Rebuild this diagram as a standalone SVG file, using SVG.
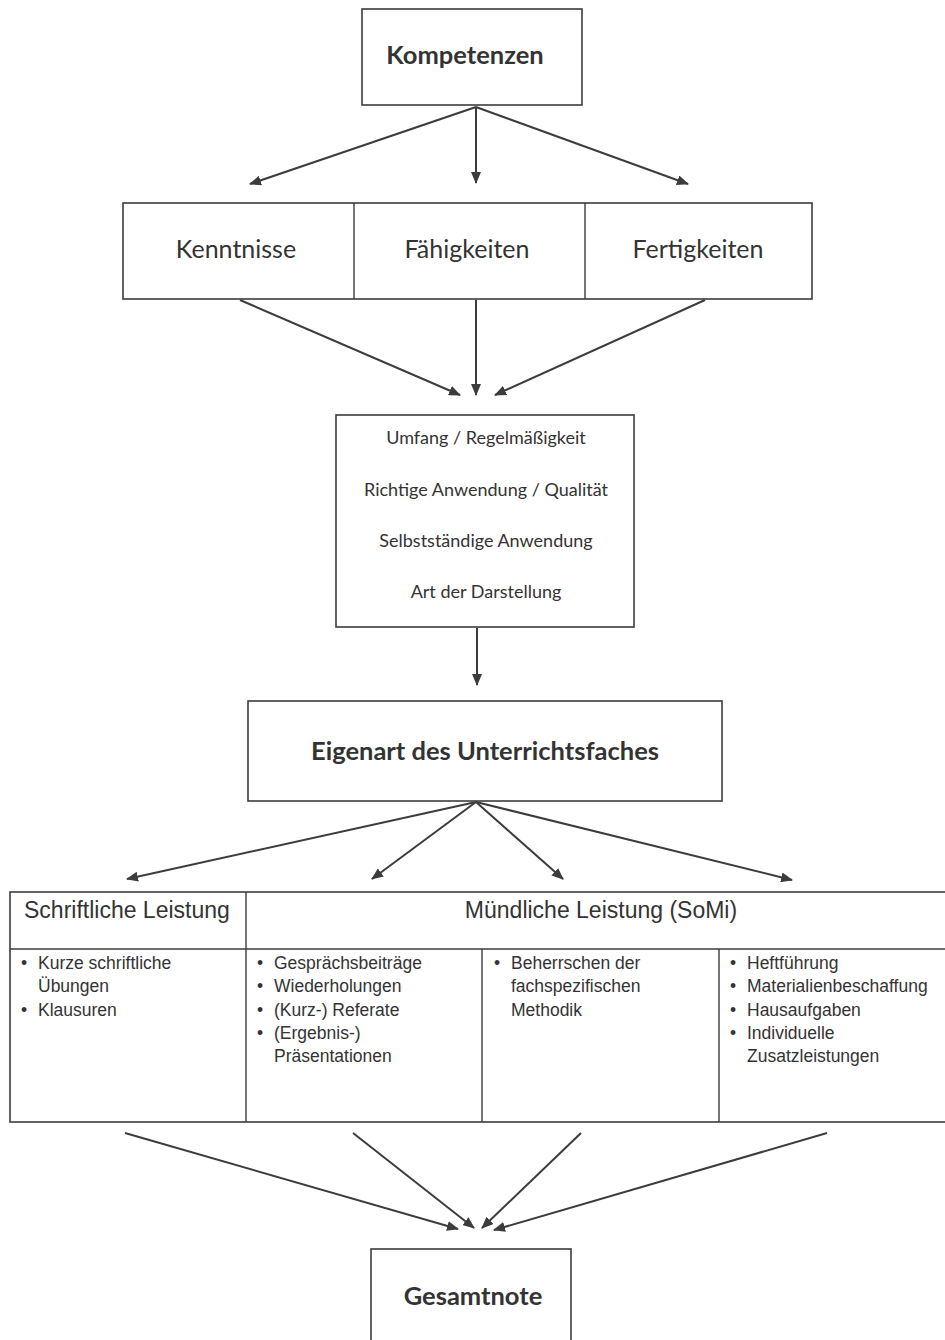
<svg xmlns="http://www.w3.org/2000/svg" width="945" height="1340" viewBox="0 0 945 1340">
<defs>
<marker id="ah" markerWidth="12" markerHeight="10" refX="11" refY="5" orient="auto" markerUnits="userSpaceOnUse">
<path d="M0,0 L12,5 L0,10 Z" fill="#3c3c3c"/>
</marker>
<style>
.box{fill:#fff;stroke:#3c3c3c;stroke-width:1.6}
.ln{stroke:#3c3c3c;stroke-width:1.4;fill:none}
.con{stroke:#3c3c3c;stroke-width:2;fill:none;marker-end:url(#ah)}
.cb{font-family:Lato,"Liberation Sans",sans-serif;font-weight:bold;font-size:25.5px;fill:#333;text-anchor:middle}
.cr{font-family:Lato,"Liberation Sans",sans-serif;font-size:25px;fill:#333;text-anchor:middle}
.cs{font-family:Lato,"Liberation Sans",sans-serif;font-size:18px;fill:#333;text-anchor:middle}
.ah{font-family:"Liberation Sans",Arial,sans-serif;font-size:23px;fill:#333}
.li{font-family:"Liberation Sans",Arial,sans-serif;font-size:17.5px;fill:#333}
</style>
</defs>
<rect width="945" height="1340" fill="#fff"/>

<g id="kompetenzen">
<rect class="box" x="362" y="9" width="220" height="96"/>
<text class="cb" x="465" y="64">Kompetenzen</text>
</g>

<g id="dimensionen">
<rect class="box" x="123" y="203" width="689" height="96"/>
<line class="ln" x1="354" y1="203" x2="354" y2="299"/>
<line class="ln" x1="585" y1="203" x2="585" y2="299"/>
<text class="cr" x="236" y="258">Kenntnisse</text>
<text class="cr" x="467" y="258">Fähigkeiten</text>
<text class="cr" x="698" y="258">Fertigkeiten</text>
</g>

<g id="kriterien">
<rect class="box" x="336" y="415" width="298" height="212"/>
<text class="cs" x="486" y="444">Umfang / Regelmäßigkeit</text>
<text class="cs" x="486" y="496">Richtige Anwendung / Qualität</text>
<text class="cs" x="486" y="547">Selbstständige Anwendung</text>
<text class="cs" x="486" y="598">Art der Darstellung</text>
</g>

<g id="eigenart">
<rect class="box" x="248" y="701" width="474" height="100"/>
<text class="cb" x="485" y="760">Eigenart des Unterrichtsfaches</text>
</g>

<g id="leistungen">
<rect class="box" x="10" y="892" width="940" height="230"/>
<line class="ln" x1="10" y1="949" x2="945" y2="949"/>
<line class="ln" x1="246" y1="892" x2="246" y2="1122"/>
<line class="ln" x1="482" y1="949" x2="482" y2="1122"/>
<line class="ln" x1="719" y1="949" x2="719" y2="1122"/>
<text class="ah" x="24" y="918">Schriftliche Leistung</text>
<text class="ah" x="601" y="918" text-anchor="middle">Mündliche Leistung (SoMi)</text>
<g class="li">
<text x="21" y="969">•</text><text x="38" y="969">Kurze schriftliche</text>
<text x="38" y="992">Übungen</text>
<text x="21" y="1016">•</text><text x="38" y="1016">Klausuren</text>

<text x="257" y="969">•</text><text x="274" y="969">Gesprächsbeiträge</text>
<text x="257" y="992">•</text><text x="274" y="992">Wiederholungen</text>
<text x="257" y="1016">•</text><text x="274" y="1016">(Kurz-) Referate</text>
<text x="257" y="1039">•</text><text x="274" y="1039">(Ergebnis-)</text>
<text x="274" y="1062">Präsentationen</text>

<text x="494" y="969">•</text><text x="511" y="969">Beherrschen der</text>
<text x="511" y="992">fachspezifischen</text>
<text x="511" y="1016">Methodik</text>

<text x="730" y="969">•</text><text x="747" y="969">Heftführung</text>
<text x="730" y="992">•</text><text x="747" y="992">Materialienbeschaffung</text>
<text x="730" y="1016">•</text><text x="747" y="1016">Hausaufgaben</text>
<text x="730" y="1039">•</text><text x="747" y="1039">Individuelle</text>
<text x="747" y="1062">Zusatzleistungen</text>
</g>
</g>

<g id="gesamtnote">
<rect class="box" x="371" y="1249" width="200" height="100"/>
<text class="cb" x="473" y="1305">Gesamtnote</text>
</g>

<g id="connectors">
<line class="con" x1="476" y1="107" x2="250" y2="184"/>
<line class="con" x1="476" y1="107" x2="476" y2="183"/>
<line class="con" x1="476" y1="107" x2="688" y2="184"/>
<line class="con" x1="240" y1="300" x2="460" y2="395"/>
<line class="con" x1="476" y1="300" x2="476" y2="395"/>
<line class="con" x1="705" y1="300" x2="495" y2="395"/>
<line class="con" x1="477" y1="628" x2="477" y2="685"/>
<line class="con" x1="476" y1="802" x2="127" y2="879"/>
<line class="con" x1="476" y1="802" x2="372" y2="879"/>
<line class="con" x1="476" y1="802" x2="563" y2="879"/>
<line class="con" x1="476" y1="802" x2="792" y2="880"/>
<line class="con" x1="125" y1="1133" x2="458" y2="1229"/>
<line class="con" x1="353" y1="1133" x2="474" y2="1228"/>
<line class="con" x1="581" y1="1133" x2="482" y2="1228"/>
<line class="con" x1="827" y1="1133" x2="494" y2="1230"/>
</g>
</svg>
